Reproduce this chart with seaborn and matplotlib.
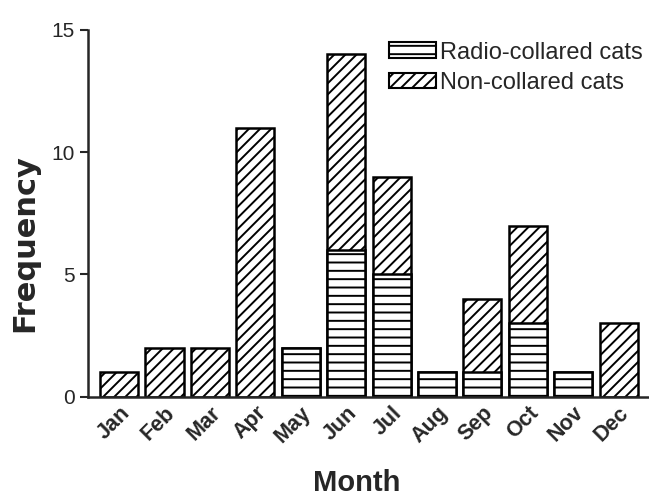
import seaborn as sns
import matplotlib.pyplot as plt
import pandas as pd
from matplotlib.patches import Patch

months = ["Jan", "Feb", "Mar", "Apr", "May", "Jun", "Jul", "Aug", "Sep", "Oct", "Nov", "Dec"]
radio_collared = [0, 0, 0, 0, 2, 6, 5, 1, 1, 3, 1, 0]
non_collared = [1, 2, 2, 11, 0, 8, 4, 0, 3, 4, 0, 3]

df = pd.DataFrame({"Month": months, "Radio": radio_collared, "Non": non_collared})
df["Total"] = df["Radio"] + df["Non"]

sns.set_style("ticks")
plt.rcParams["font.family"] = ["Liberation Sans", "DejaVu Sans"]
plt.rcParams["hatch.linewidth"] = 1.4
plt.rcParams["hatch.color"] = "black"

fig = plt.figure(figsize=(6.49, 4.96), dpi=100)
ax = fig.add_axes([0.136, 0.2, 0.862, 0.74])

# non-collared stacked on top: draw total first, radio over it
sns.barplot(data=df, x="Month", y="Total", color="white", edgecolor="black",
            linewidth=1.8, hatch="///", width=0.84, ax=ax)
sns.barplot(data=df[df["Radio"] > 0], x="Month", y="Radio", order=months, color="white",
            edgecolor="black", linewidth=1.8, hatch="--", width=0.84, ax=ax)

ax.set_ylim(0, 15)
ax.set_xlim(-0.68, 11.64)
ax.set_yticks([0, 5, 10, 15])
ax.tick_params(axis="y", labelsize=15, length=6, width=1.5, direction="out")
ax.tick_params(axis="x", labelsize=15.5, length=0, pad=4)
for lbl in ax.get_xticklabels():
    lbl.set_rotation(45)
    lbl.set_ha("right")
    lbl.set_rotation_mode("anchor")
    lbl.set_fontweight("bold")

ax.set_xlabel("Month", fontsize=21, fontweight="bold")
ax.set_ylabel("Frequency", fontsize=22, fontweight="bold", family="DejaVu Sans")
ax.xaxis.set_label_coords(0.48, -0.196)
ax.yaxis.set_label_coords(-0.088, 0.42)

sns.despine(ax=ax)
ax.spines["left"].set_linewidth(1.8)
ax.spines["bottom"].set_linewidth(1.8)

handles = [Patch(facecolor="white", edgecolor="black", hatch="--", linewidth=1.5, label="Radio-collared cats"),
           Patch(facecolor="white", edgecolor="black", hatch="///", linewidth=1.5, label="Non-collared cats")]
ax.legend(handles=handles, loc="upper right", bbox_to_anchor=(1.008, 0.94), bbox_transform=fig.transFigure,
          frameon=False, borderpad=0, fontsize=17, handlelength=2.0, handleheight=0.65,
          handletextpad=0.15, labelspacing=0.35)

fig.savefig("out.png", dpi=100)
